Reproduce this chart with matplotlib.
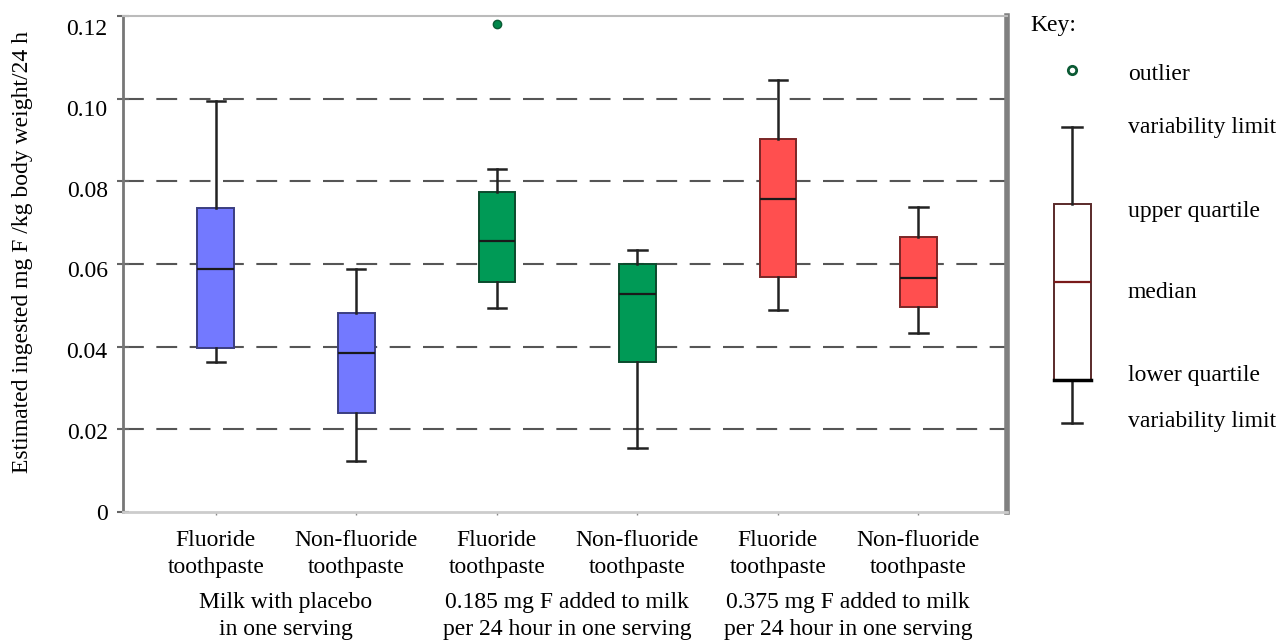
import matplotlib
matplotlib.use("Agg")
import matplotlib.pyplot as plt
from matplotlib.transforms import blended_transform_factory

plt.rcParams['font.family'] = ['Liberation Serif', 'DejaVu Serif']
FS = 17

# box statistics (mg F / kg body weight / 24 h)
tick_labels = ["Fluoride\ntoothpaste", "Non-fluoride\ntoothpaste"] * 3
group_labels = ["Milk with placebo\nin one serving",
                "0.185 mg F added to milk\nper 24 hour in one serving",
                "0.375 mg F added to milk\nper 24 hour in one serving"]
y_ticks = [0, 0.02, 0.04, 0.06, 0.08, 0.10, 0.12]
y_tick_labels = ["0", "0.02", "0.04", "0.06", "0.08", "0.10", "0.12"]
whisker_low = [0.0363, 0.0124, 0.0494, 0.0156, 0.0489, 0.0433]
q1 = [0.0397, 0.0240, 0.0556, 0.0363, 0.0569, 0.0496]
median = [0.0588, 0.0385, 0.0656, 0.0527, 0.0757, 0.0566]
q3 = [0.0736, 0.0481, 0.0774, 0.0600, 0.0902, 0.0665]
whisker_high = [0.0994, 0.0588, 0.0830, 0.0634, 0.1045, 0.0738]
outliers = [[], [], [0.118], [], [], []]
colors = ["#7379FF", "#7379FF", "#009A56", "#009A56", "#FF4F4F", "#FF4F4F"]
edge_colors = ["#3a3d80", "#3a3d80", "#0b4a2c", "#0b4a2c", "#7a2626", "#7a2626"]

fig = plt.figure(figsize=(12.8, 6.41), dpi=100)
rect = [123 / 1280, 1 - 512 / 641, (1007 - 123) / 1280, (512 - 16) / 641]
ax = fig.add_axes(rect)

stats = []
for i in range(6):
    stats.append({"whislo": whisker_low[i], "q1": q1[i], "med": median[i],
                  "q3": q3[i], "whishi": whisker_high[i], "fliers": outliers[i]})

positions = list(range(1, 7))
bp = ax.bxp(stats, positions=positions, widths=0.26, patch_artist=True,
            capwidths=0.13, manage_ticks=False,
            whiskerprops=dict(color="#222222", linewidth=1.8),
            capprops=dict(color="#222222", linewidth=1.8),
            medianprops=dict(color="#1a1a1a", linewidth=1.6),
            flierprops=dict(marker="o", markersize=6, markerfacecolor="#00874a",
                            markeredgecolor="#0b5a34", linestyle="none"))
for patch, c, ec in zip(bp["boxes"], colors, edge_colors):
    patch.set_facecolor(c)
    patch.set_edgecolor(ec)
    patch.set_linewidth(1.4)
    patch.set_zorder(3)
for k in ("whiskers", "caps", "medians", "fliers"):
    for a in bp[k]:
        a.set_zorder(4)

ax.set_xlim(0.34, 6.63)
ax.set_ylim(0, 0.12)
ax.set_yticks(y_ticks)
ax.set_yticklabels([])
ax.set_xticks(positions)
ax.set_xticklabels(tick_labels, linespacing=1.38)

for y in y_ticks[1:-1]:
    ax.axhline(y, color="#555555", linewidth=1.5, dashes=(10, 6), zorder=1)

ax.tick_params(axis="y", direction="inout", length=9, width=1.5, color="#666666")
ax.tick_params(axis="x", length=2, width=1, color="#888888", labelsize=FS, pad=11)

ax.spines["left"].set_color("#777777")
ax.spines["left"].set_linewidth(2)
ax.spines["bottom"].set_color("#cccccc")
ax.spines["bottom"].set_linewidth(2)
ax.spines["top"].set_color("#bbbbbb")
ax.spines["top"].set_linewidth(1.5)
ax.spines["right"].set_color("#808080")
ax.spines["right"].set_linewidth(4)

# in the original the tick labels sit on a slightly compressed scale
lab = fig.add_axes(rect, frameon=False)
lab.set_ylim(0, 0.1227)
lab.set_yticks(y_ticks)
lab.set_yticklabels(y_tick_labels)
lab.set_xticks([])
lab.tick_params(axis="y", length=0, labelsize=FS, pad=11)
lab.patch.set_visible(False)

fig.text(23 / 1280, 1 - 252 / 641, "Estimated ingested mg F /kg body weight/24 h",
         rotation=90, ha="center", va="center", fontsize=FS)

trans = blended_transform_factory(ax.transData, ax.transAxes)
for i, g in enumerate(group_labels):
    ax.text(1.5 + 2 * i, -0.161, g, transform=trans, ha="center", va="top",
            fontsize=FS, linespacing=1.38)

# key panel, drawn in pixel units
kx = fig.add_axes([1020 / 1280, 0, 260 / 1280, 1])
kx.set_xlim(0, 260)
kx.set_ylim(641, 0)
kx.axis("off")
key_box = [{"whislo": 423, "q1": 380, "med": 282, "q3": 204, "whishi": 127, "fliers": []}]
kb = kx.bxp(key_box, positions=[52], widths=37, capwidths=20, patch_artist=True,
            manage_ticks=False,
            boxprops=dict(facecolor="white", edgecolor="#5a2a2a", linewidth=1.4),
            whiskerprops=dict(color="#222222", linewidth=1.8),
            capprops=dict(color="#222222", linewidth=1.8),
            medianprops=dict(color="#7a1a1a", linewidth=1.6))
kx.plot([33.5, 70.5], [380, 380], color="black", linewidth=2.5)
kx.plot([52], [70], marker="o", markersize=6, markerfacecolor="white",
        markeredgecolor="#0b5a34", markeredgewidth=2)
kx.text(10, 25, "Key:", fontsize=FS, va="center")
key_text = ["outlier", "variability limit", "upper quartile", "median",
            "lower quartile", "variability limit"]
key_y = [75, 127, 212, 293, 375, 422]
for t, y in zip(key_text, key_y):
    kx.text(108, y, t, fontsize=FS, va="center")

fig.savefig("out.png", dpi=100)
